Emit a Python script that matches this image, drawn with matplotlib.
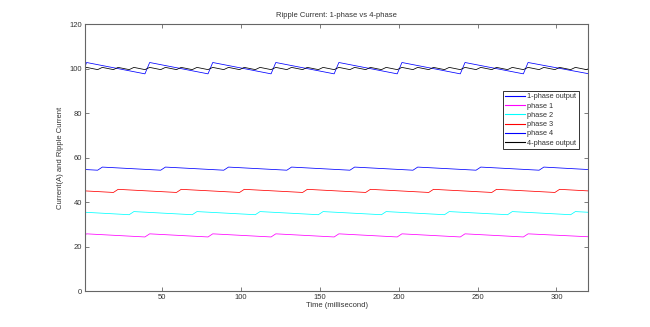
import matplotlib
matplotlib.use('Agg')
import matplotlib.pyplot as plt

plt.rcParams['font.family'] = ['Liberation Sans', 'DejaVu Sans']

# 1-phase output (vertices of the sampled waveform, ms / A)
t_1ph = [1, 2, 39, 42, 79, 82, 119, 122, 159, 162, 199, 202, 239, 242, 279, 282, 320]
i_1ph = [100.9, 102.7, 97.6, 102.7, 97.6, 102.7, 97.6, 102.7, 97.6, 102.7, 97.6,
         102.7, 97.6, 102.7, 97.6, 102.7, 97.7]

# individual phases (shown with 10 A offsets)
t_ph1 = [1, 2, 39, 42, 79, 82, 119, 122, 159, 162, 199, 202, 239, 242, 279, 282, 320]
i_ph1 = [25.2, 25.7, 24.3, 25.7, 24.3, 25.7, 24.3, 25.7, 24.3, 25.7, 24.3,
         25.7, 24.3, 25.7, 24.3, 25.7, 24.4]

t_ph2 = [1, 29, 32, 69, 72, 109, 112, 149, 152, 189, 192, 229, 232, 269, 272, 309, 312, 320]
i_ph2 = [35.4, 34.3, 35.7, 34.3, 35.7, 34.3, 35.7, 34.3, 35.7, 34.3, 35.7,
         34.3, 35.7, 34.3, 35.7, 34.3, 35.7, 35.4]

t_ph3 = [1, 19, 22, 59, 62, 99, 102, 139, 142, 179, 182, 219, 222, 259, 262, 299, 302, 320]
i_ph3 = [45.0, 44.3, 45.7, 44.3, 45.7, 44.3, 45.7, 44.3, 45.7, 44.3, 45.7,
         44.3, 45.7, 44.3, 45.7, 44.3, 45.7, 45.0]

t_ph4 = [1, 9, 12, 49, 52, 89, 92, 129, 132, 169, 172, 209, 212, 249, 252, 289, 292, 320]
i_ph4 = [54.6, 54.3, 55.7, 54.3, 55.7, 54.3, 55.7, 54.3, 55.7, 54.3, 55.7,
         54.3, 55.7, 54.3, 55.7, 54.3, 55.7, 54.6]

# 4-phase output
t_4ph = [1, 2, 9, 12, 19, 22, 29, 32, 39, 42, 49, 52, 59, 62, 69, 72, 79, 82,
         89, 92, 99, 102, 109, 112, 119, 122, 129, 132, 139, 142, 149, 152,
         159, 162, 169, 172, 179, 182, 189, 192, 199, 202, 209, 212, 219, 222,
         229, 232, 239, 242, 249, 252, 259, 262, 269, 272, 279, 282, 289, 292,
         299, 302, 309, 312, 319, 320]
i_4ph = [100.1, 100.5, 99.5, 100.5, 99.5, 100.5, 99.5, 100.5, 99.5, 100.5,
         99.5, 100.5, 99.5, 100.5, 99.5, 100.5, 99.5, 100.5, 99.5, 100.5,
         99.5, 100.5, 99.5, 100.5, 99.5, 100.5, 99.5, 100.5, 99.5, 100.5,
         99.5, 100.5, 99.5, 100.5, 99.5, 100.5, 99.5, 100.5, 99.5, 100.5,
         99.5, 100.5, 99.5, 100.5, 99.5, 100.5, 99.5, 100.5, 99.5, 100.5,
         99.5, 100.5, 99.5, 100.5, 99.5, 100.5, 99.5, 100.5, 99.5, 100.5,
         99.5, 100.5, 99.5, 100.5, 99.5, 99.8]

x_ticks = [50, 100, 150, 200, 250, 300]
y_ticks = [0, 20, 40, 60, 80, 100, 120]

fig = plt.figure(figsize=(6.5, 3.27), dpi=100)
ax = fig.add_axes([0.1308, 0.110, 0.7738, 0.8166])

lw = 0.55
ax.plot(t_1ph, i_1ph, color='#0000ff', lw=lw, label='1-phase output')
ax.plot(t_ph1, i_ph1, color='#ff00ff', lw=lw, label='phase 1')
ax.plot(t_ph2, i_ph2, color='#00ffff', lw=lw, label='phase 2')
ax.plot(t_ph3, i_ph3, color='#ff0000', lw=lw, label='phase 3')
ax.plot(t_ph4, i_ph4, color='#0000ff', lw=lw, label='phase 4')
ax.plot(t_4ph, i_4ph, color='#000000', lw=lw, label='4-phase output')

ax.set_xlim(1, 320)
ax.set_ylim(0, 120)
ax.set_xticks(x_ticks)
ax.set_yticks(y_ticks)

txt = '#333333'
for s in ax.spines.values():
    s.set_color('#666666')
    s.set_linewidth(0.8)
ax.tick_params(direction='in', length=3, width=0.6, color='#666666',
               labelsize=5.5, labelcolor=txt, top=True, right=True, pad=2)

ax.set_title('Ripple Current: 1-phase vs 4-phase', fontsize=5.5, color=txt, pad=5)
ax.set_xlabel('Time (millisecond)', fontsize=5.5, color=txt, labelpad=1)
ax.set_ylabel('Current(A) and Ripple Current', fontsize=5.5, color=txt, labelpad=4)

leg = ax.legend(loc='upper right', bbox_to_anchor=(0.982, 0.75), borderaxespad=0,
                fontsize=5.3, fancybox=False, framealpha=1, edgecolor='#333333',
                handlelength=2.7, handletextpad=0.3, labelspacing=0.28,
                borderpad=0.35)
leg.get_frame().set_linewidth(0.7)
for line in leg.get_lines():
    line.set_linewidth(0.8)
for t in leg.get_texts():
    t.set_color(txt)

fig.savefig('out.png', dpi=100)
